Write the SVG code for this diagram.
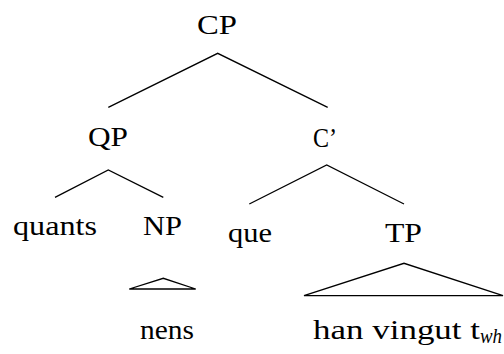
<svg xmlns="http://www.w3.org/2000/svg" width="504" height="354" viewBox="0 0 504 354">
  <style>
    .edge { stroke: #000; stroke-width: 1.3; fill: none; stroke-linejoin: miter; }
  </style>
  <rect width="504" height="354" fill="#fff"/>

  <!-- branches of the tree -->
  <g id="connectors">
    <polyline class="edge" points="108.3,107.3 217.7,53.3 327.7,107.3"/>
    <polyline class="edge" points="55,197.3 108.3,170 163.3,197.3"/>
    <polyline class="edge" points="249.3,204 326.7,165 404,204"/>
    <polygon class="edge" points="129.3,289 163.3,278.3 195.7,289"/>
    <polygon class="edge" points="304,295.7 404,263.3 503,295.7"/>
  </g>

  <!-- node labels -->
  <g font-family="Liberation Serif, Times New Roman, serif" font-size="28" fill="#000">
    <g id="cp"><text x="197" y="34" textLength="40" lengthAdjust="spacingAndGlyphs">CP</text></g>
    <g id="qp"><text x="88" y="146" textLength="40" lengthAdjust="spacingAndGlyphs">QP</text></g>
    <g id="cbar"><text x="313" y="146.5" textLength="24" lengthAdjust="spacingAndGlyphs">C’</text></g>
    <g id="quants"><text x="13" y="235" textLength="84" lengthAdjust="spacingAndGlyphs">quants</text></g>
    <g id="np"><text x="143" y="235" textLength="39" lengthAdjust="spacingAndGlyphs">NP</text></g>
    <g id="que"><text x="228" y="241.5" textLength="44" lengthAdjust="spacingAndGlyphs">que</text></g>
    <g id="tp"><text x="385" y="241.5" textLength="37" lengthAdjust="spacingAndGlyphs">TP</text></g>
    <g id="nens"><text x="140" y="339" textLength="54" lengthAdjust="spacingAndGlyphs">nens</text></g>
    <g id="tp-yield">
      <text x="313" y="339" textLength="167" lengthAdjust="spacingAndGlyphs">han vingut t</text>
      <text x="480" y="343" font-size="20" font-style="italic" textLength="22" lengthAdjust="spacingAndGlyphs">wh</text>
    </g>
  </g>
</svg>
